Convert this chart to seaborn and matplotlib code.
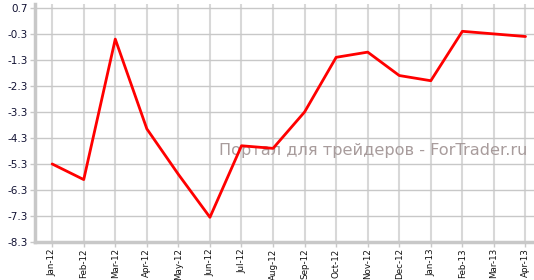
import matplotlib
matplotlib.use("Agg")
import matplotlib.pyplot as plt
import seaborn as sns
import pandas as pd

months = ["Jan-12", "Feb-12", "Mar-12", "Apr-12", "May-12", "Jun-12", "Jul-12", "Aug-12",
          "Sep-12", "Oct-12", "Nov-12", "Dec-12", "Jan-13", "Feb-13", "Mar-13", "Apr-13"]
values = [-5.3, -5.9, -0.5, -3.95, -5.7, -7.35, -4.6, -4.7,
          -3.3, -1.2, -1.0, -1.9, -2.1, -0.2, -0.3, -0.4]
yticks = [0.7, -0.3, -1.3, -2.3, -3.3, -4.3, -5.3, -6.3, -7.3, -8.3]
watermark = "Портал для трейдеров - ForTrader.ru"

df = pd.DataFrame({"month": months, "value": values})

sns.set_theme(style="white")
plt.rcParams['font.family'] = ['DejaVu Sans']

fig = plt.figure(figsize=(5.34, 2.80), dpi=100)
ax = fig.add_axes([34.5/534, 1 - 242/280, (534 - 34.5)/534, (242 - 4)/280])

sns.lineplot(data=df, x="month", y="value", ax=ax, color="#ff0000", linewidth=2, zorder=3, sort=False)

ax.set_xlim(-0.56, 15.27)
ax.set_ylim(-8.3, 0.85)
ax.set_yticks(yticks)
ax.set_yticklabels([f"{v:.1f}" for v in yticks], fontsize=7.5, color="#111133")
ax.set_xticks(range(len(months)))
ax.set_xticklabels(months, rotation=90, fontsize=6.3, color="#111111")
ax.set_xlabel("")
ax.set_ylabel("")

ax.grid(True, axis="y", color="#c8c8c8", linewidth=1)
ax.grid(True, axis="x", color="#d8d8d8", linewidth=1.5)
ax.set_axisbelow(True)

for s in ["top", "right"]:
    ax.spines[s].set_visible(False)
for s in ["left", "bottom"]:
    ax.spines[s].set_color("#c8c8c8")
    ax.spines[s].set_linewidth(2.5)

ax.tick_params(axis="y", which="major", length=3.5, width=1, color="#c8c8c8", pad=1.5,
               direction="out", left=True)
ax.tick_params(axis="x", which="major", length=3.5, width=1, color="#c8c8c8", pad=1,
               direction="out", bottom=True)

ax.text(527/534, 1 - 151/280, watermark, transform=fig.transFigure, ha="right", va="center",
        fontsize=11.6, color="#a89c9c", zorder=2)

fig.savefig("out.png", dpi=100)
